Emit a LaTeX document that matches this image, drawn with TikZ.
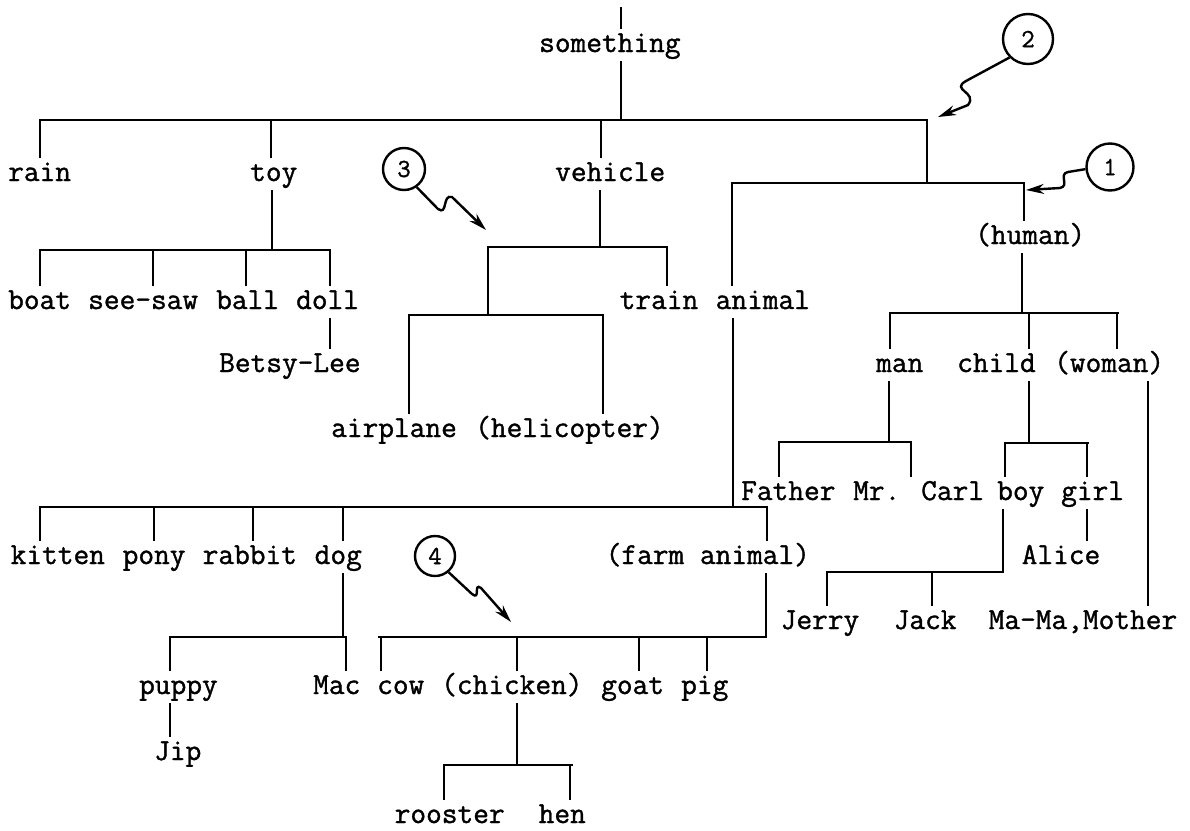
\documentclass[tikz,border=0pt]{standalone}
\usepackage{fontspec}
\newfontfamily\typewriter[FakeBold=1.2]{Latin Modern Mono}
\usetikzlibrary{arrows.meta}
\begin{document}
\begin{tikzpicture}[x=1pt,y=-1pt,
  lbl/.style={anchor=base west, inner xsep=0pt, inner ysep=4pt, text height=20pt, text depth=6pt, font=\fontsize{30.5}{36}\selectfont\typewriter},
  tree/.style={line width=2.8pt, line cap=rect},
  num/.style={draw, circle, line width=2.4pt, inner sep=0pt, font=\fontsize{26}{30}\selectfont\typewriter},
  pointer/.style={line width=2.4pt, -{Stealth[length=18pt,width=10pt]}}]
\fill[white] (0,0) rectangle (1190,830);
\useasboundingbox (0,0) rectangle (1190,830);

% ---- labels ----
\node[lbl] (something) at (539,52) {something};
\node[lbl] (rain) at (8,181) {rain};
\node[lbl] (toy) at (250,181) {toy};
\node[lbl] (vehicle) at (555,181) {vehicle};
\node[lbl] (human) at (975,244) {(human)};
\node[lbl] (boat) at (8,309) {boat};
\node[lbl] (seesaw) at (88,309) {see-saw};
\node[lbl] (ball) at (216,309) {ball};
\node[lbl] (doll) at (296,309) {doll};
\node[lbl] (train) at (619.5,309) {train};
\node[lbl] (animal) at (715.5,309) {animal};
\node[lbl] (betsy) at (219,372) {Betsy-Lee};
\node[lbl] (man) at (876,372) {man};
\node[lbl] (child) at (957,372) {child};
\node[lbl] (woman) at (1054,372) {(woman)};
\node[lbl] (airplane) at (331,437) {airplane};
\node[lbl] (heli) at (475,437) {(helicopter)};
\node[lbl] (father) at (741,500) {Father};
\node[lbl] (mrcarl) at (853,500) {Mr. Carl};
\node[lbl] (boy) at (997,500) {boy};
\node[lbl] (girl) at (1061,500) {girl};
\node[lbl] (kitten) at (10.5,564) {kitten};
\node[lbl] (pony) at (122.5,564) {pony};
\node[lbl] (rabbit) at (202.5,564) {rabbit};
\node[lbl] (dog) at (314.5,564) {dog};
\node[lbl] (farm) at (605.5,564) {(farm animal)};
\node[lbl] (alice) at (1021.5,564) {Alice};
\node[lbl] (jerry) at (780.5,629) {Jerry};
\node[lbl] (jack) at (893.5,629) {Jack};
\node[lbl] (mother) at (988.5,629) {Ma-Ma,Mother};
\node[lbl] (puppy) at (139,694) {puppy};
\node[lbl] (mac) at (313,694) {Mac};
\node[lbl] (cow) at (377,694) {cow};
\node[lbl] (chicken) at (441,694) {(chicken)};
\node[lbl] (goat) at (601,694) {goat};
\node[lbl] (pig) at (681,694) {pig};
\node[lbl] (jip) at (154,760) {Jip};
\node[lbl] (rooster) at (394.5,823) {rooster};
\node[lbl] (hen) at (538.5,823) {hen};

% ---- unlabeled junctions ----
\coordinate (top) at (621,8);
\coordinate (hub) at (927,183);
\coordinate (air) at (488,315);

% ---- top level ----
\draw[tree] (top) -- (621,0 |- something.north);
\draw[tree] (621,0 |- something.south) -- (621,120);
\draw[tree] (40,120) -- (927,120);
\foreach \x/\n in {40/rain,271/toy,601/vehicle}
  \draw[tree] (\x,120) -- (\x,0 |- \n.north);
\draw[tree] (927,120) -- (hub);
\draw[tree] (732,183) -- (1024,183);
\draw[tree] (732,183) -- (732,0 |- animal.north);
\draw[tree] (1024,183) -- (1024,0 |- human.north);

% ---- toy ----
\draw[tree] (272,0 |- toy.south) -- (272,250);
\draw[tree] (40,250) -- (330,250);
\foreach \x/\n in {40/boat,153/seesaw,246/ball,330/doll}
  \draw[tree] (\x,250) -- (\x,0 |- \n.north);
\draw[tree] (330,0 |- doll.south) -- (330,0 |- betsy.north);

% ---- vehicle ----
\draw[tree] (600,0 |- vehicle.south) -- (600,247);
\draw[tree] (488,247) -- (667,247);
\draw[tree] (667,247) -- (667,0 |- train.north);
\draw[tree] (488,247) -- (air);
\draw[tree] (409,315) -- (603,315);
\draw[tree] (409,315) -- (409,0 |- airplane.north);
\draw[tree] (603,315) -- (603,0 |- heli.north);

% ---- animal ----
\draw[tree] (733,0 |- animal.south) -- (733,507);
\draw[tree] (40,507) -- (767,507);
\foreach \x/\n in {40/kitten,154/pony,253/rabbit,343/dog,767/farm}
  \draw[tree] (\x,507) -- (\x,0 |- \n.north);
\draw[tree] (343,0 |- dog.south) -- (343,637);
\draw[tree] (170,637) -- (346,637);
\foreach \x/\n in {170/puppy,346/mac}
  \draw[tree] (\x,637) -- (\x,0 |- \n.north);
\draw[tree] (170,0 |- puppy.south) -- (170,0 |- jip.north);
\draw[tree] (766,0 |- farm.south) -- (766,637);
\draw[tree] (379,637) -- (766,637);
\foreach \x/\n in {381/cow,517/chicken,639/goat,707/pig}
  \draw[tree] (\x,637) -- (\x,0 |- \n.north);
\draw[tree] (517,0 |- chicken.south) -- (517,765);
\draw[tree] (444,765) -- (572,765);
\foreach \x/\n in {444/rooster,570/hen}
  \draw[tree] (\x,765) -- (\x,0 |- \n.north);

% ---- human ----
\draw[tree] (1022,0 |- human.south) -- (1022,313);
\draw[tree] (890,313) -- (1118,313);
\foreach \x/\n in {890/man,1029/child,1117/woman}
  \draw[tree] (\x,313) -- (\x,0 |- \n.north);
\draw[tree] (889,0 |- man.south) -- (889,442);
\draw[tree] (779,442) -- (911,442);
\foreach \x/\n in {779/father,911/mrcarl}
  \draw[tree] (\x,442) -- (\x,0 |- \n.north);
\draw[tree] (1029,0 |- child.south) -- (1029,443);
\draw[tree] (1005,443) -- (1088,443);
\foreach \x/\n in {1005/boy,1087/girl}
  \draw[tree] (\x,443) -- (\x,0 |- \n.north);
\draw[tree] (1003,0 |- boy.south) -- (1003,572);
\draw[tree] (827,572) -- (1003,572);
\foreach \x/\n in {827/jerry,932/jack}
  \draw[tree] (\x,572) -- (\x,0 |- \n.north);
\draw[tree] (1087,0 |- girl.south) -- (1087,0 |- alice.north);
\draw[tree] (1148,0 |- woman.south) -- (1148,0 |- mother.north);

% ---- circled numbers and pointers ----
\node[num, minimum width=40pt, minimum height=42pt] (n3) at (404,169) {3};
\node[num, minimum width=40pt, minimum height=36pt] (n4) at (435,556) {4};
\node[num, minimum width=50pt, minimum height=48pt] (n2) at (1028,39) {2};
\node[num, minimum width=45pt, minimum height=47pt] (n1) at (1110,167) {1};

\draw[pointer] (n3.-55) -- (438,209) .. controls (448,216) and (442,194) .. (452,197) -- (486,230);
\draw[pointer] (n4.-50) -- (472,594) .. controls (481,601) and (473,582) .. (481,588) -- (511,622);
\draw[pointer] (n2.225) -- (966,81) .. controls (950,90) and (978,92) .. (968,105) -- (938,117);
\draw[pointer] (n1.185) -- (1068,172) .. controls (1058,174) and (1070,186) .. (1060,188) -- (1026,190);
\end{tikzpicture}
\end{document}
